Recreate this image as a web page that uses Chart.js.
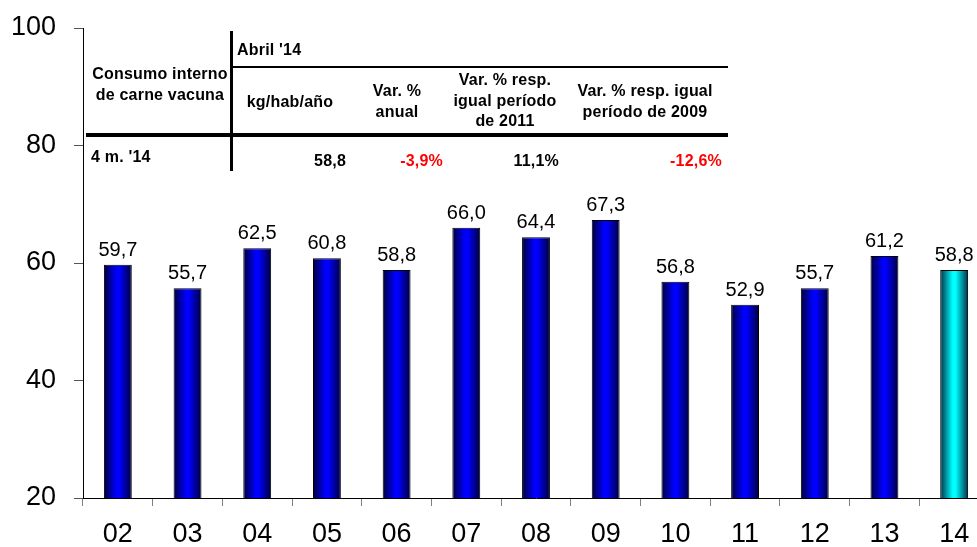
<!DOCTYPE html>
<html lang="es">
<head>
<meta charset="UTF-8">
<title>Consumo interno de carne vacuna</title>
<script src="https://cdn.jsdelivr.net/npm/chart.js"></script>
<style>
  body { margin: 0; background: #fff; overflow: hidden; font-family: "Liberation Sans", Arial, sans-serif; }
  .wrap { position: relative; width: 1000px; height: 547px; }
  #chart { position: absolute; left: 0; top: 0; }
  .t { position: absolute; font-weight: bold; font-size: 16px; letter-spacing: 0.2px; line-height: 20.5px; color: #000; white-space: nowrap; }
  .c { text-align: center; transform: translate(-50%, -50%); }
  .r { text-align: right; transform: translate(-100%, -50%); }
  .l { transform: translateY(-50%); }
  .neg { color: #f00; }
  .line { position: absolute; background: #000; }
</style>
</head>
<body>
<div class="wrap">
  <canvas id="chart" width="1000" height="547"></canvas>

  <!-- cuadro resumen -->
  <div class="line" style="left:230px; top:31px; width:3px; height:140px;"></div>
  <div class="line" style="left:231px; top:66px; width:497px; height:2px;"></div>
  <div class="line" style="left:86px; top:133px; width:642px; height:4px;"></div>

  <div class="t l" style="left:237px; top:50px;">Abril '14</div>
  <div class="t c" style="left:160px; top:84px;">Consumo interno<br>de carne vacuna</div>
  <div class="t c" style="left:290px; top:102px;">kg/hab/año</div>
  <div class="t c" style="left:397px; top:101px;">Var. %<br>anual</div>
  <div class="t c" style="left:505px; top:101px;">Var. % resp.<br>igual período<br>de 2011</div>
  <div class="t c" style="left:645px; top:101px;">Var. % resp. igual<br>período de 2009</div>

  <div class="t l" id="f0" style="left:91px; top:157px;"></div>
  <div class="t r" id="f1" style="left:346px; top:161px;"></div>
  <div class="t r" id="f2" style="left:443px; top:161px;"></div>
  <div class="t r" id="f3" style="left:559px; top:161px;"></div>
  <div class="t r" id="f4" style="left:722px; top:161px;"></div>
</div>

<script>
    // datos
    const years = ['02', '03', '04', '05', '06', '07', '08', '09', '10', '11', '12', '13', '14'];
    const consumo = [59.7, 55.7, 62.5, 60.8, 58.8, 66.0, 64.4, 67.3, 56.8, 52.9, 55.7, 61.2, 58.8];
    const yTicks = [20, 40, 60, 80, 100];
    const filaAbril = ["4 m. '14", '58,8', '-3,9%', '11,1%', '-12,6%'];

    filaAbril.forEach((v, i) => {
        const el = document.getElementById('f' + i);
        el.textContent = v;
        if (v.startsWith('-')) el.classList.add('neg');
    });

    Chart.defaults.font.family = '"Liberation Sans", Arial, sans-serif';

    const BAR_PCT = 0.4;

    function barFill(ctx) {
        const last = ctx.dataIndex === years.length - 1;
        const edge = last ? '#003048' : '#00003a';
        const mid = last ? '#00ffff' : '#0000ff';
        const chart = ctx.chart;
        const x = chart.scales.x;
        if (!x || ctx.dataIndex === undefined) return mid;
        const cx = x.getPixelForValue(ctx.dataIndex);
        const half = x.width / years.length * BAR_PCT / 2;
        if (!isFinite(cx) || !isFinite(half) || half <= 0) return mid;
        const g = chart.ctx.createLinearGradient(cx - half, 0, cx + half, 0);
        g.addColorStop(0, edge);
        g.addColorStop(0.45, mid);
        g.addColorStop(0.55, mid);
        g.addColorStop(1, edge);
        return g;
    }

    // etiquetas de valor sobre las barras
    const etiquetas = {
        id: 'etiquetas',
        afterDatasetsDraw(chart) {
            const c = chart.ctx;
            c.save();
            c.font = '20px "Liberation Sans", Arial, sans-serif';
            c.fillStyle = '#000';
            c.textAlign = 'center';
            c.textBaseline = 'alphabetic';
            chart.getDatasetMeta(0).data.forEach((bar, i) => {
                c.fillText(consumo[i].toFixed(1).replace('.', ','), bar.x, bar.y - 9);
            });
            c.restore();
        }
    };

    new Chart(document.getElementById('chart'), {
        type: 'bar',
        data: {
            labels: years,
            datasets: [{
                data: consumo,
                backgroundColor: barFill,
                borderColor: '#000',
                borderWidth: 1,
                barPercentage: BAR_PCT,
                categoryPercentage: 1
            }]
        },
        options: {
            responsive: false,
            animation: false,
            layout: { padding: { top: 28, right: 11, left: 0, bottom: 0 } },
            plugins: { legend: { display: false }, tooltip: { enabled: false } },
            scales: {
                x: {
                    grid: { drawOnChartArea: false, tickLength: 8, color: '#808080', offset: true },
                    border: { color: '#000', width: 1 },
                    ticks: { color: '#000', font: { size: 27 }, padding: 12 },
                    afterFit(s) { s.height = 49; s.paddingLeft = 0; s.paddingRight = 0; }
                },
                y: {
                    min: 20,
                    max: 100,
                    afterBuildTicks(s) { s.ticks = yTicks.map(v => ({ value: v })); },
                    grid: { drawOnChartArea: false, tickLength: 9, color: '#555' },
                    border: { color: '#000', width: 1 },
                    ticks: { color: '#000', font: { size: 27 }, padding: 18 },
                    afterFit(s) { s.width = 83; s.paddingTop = 0; s.paddingBottom = 0; }
                }
            }
        },
        plugins: [etiquetas]
    });
</script>
</body>
</html>
